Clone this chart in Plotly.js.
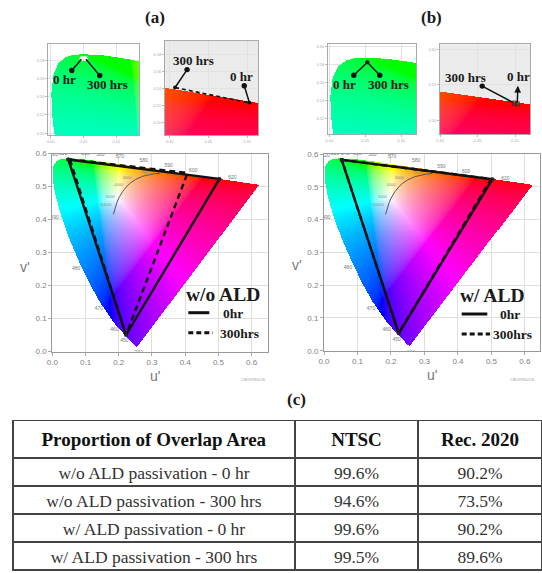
<!DOCTYPE html>
<html><head><meta charset="utf-8">
<script src="https://cdn.plot.ly/plotly-3.0.1.min.js"></script>
<style>html,body{margin:0;padding:0;background:#fff;}#chart{width:542px;height:573px;}</style>
</head><body><div id="chart"></div>
<script>
// ---------- DATA ----------
// CIE 1931 2-degree spectral locus (x, y chromaticity)
const wavelengths = [380,390,400,410,420,430,440,450,460,470,475,480,485,490,495,500,505,510,515,520,525,530,540,550,560,570,580,590,600,610,620,630,640,650,660,680,700];
const locusX = [0.1741,0.1738,0.1733,0.1726,0.1714,0.1689,0.1644,0.1566,0.1440,0.1241,0.1096,0.0913,0.0687,0.0454,0.0235,0.0082,0.0039,0.0139,0.0389,0.0743,0.1142,0.1547,0.2296,0.3016,0.3731,0.4441,0.5125,0.5752,0.6270,0.6658,0.6915,0.7079,0.7190,0.7260,0.7300,0.7334,0.7347];
const locusY = [0.0050,0.0049,0.0048,0.0048,0.0051,0.0069,0.0109,0.0177,0.0297,0.0578,0.0868,0.1327,0.2007,0.2950,0.4127,0.5384,0.6548,0.7502,0.8120,0.8338,0.8262,0.8059,0.7543,0.6923,0.6245,0.5547,0.4866,0.4242,0.3725,0.3340,0.3083,0.2920,0.2809,0.2740,0.2700,0.2666,0.2653];
const labelledWavelengths = [380,450,460,470,480,490,500,510,520,530,540,550,560,570,580,590,600,620];
// Planckian locus (CIE 1931 x, y)
const planckT = [20000,10000,8000,6500,5000,4000,3500,3000,2500,2000,1800];
const planckX = [0.2565,0.2807,0.2952,0.3135,0.3451,0.3805,0.4053,0.4369,0.4770,0.5267,0.5496];
const planckY = [0.2577,0.2884,0.3048,0.3237,0.3516,0.3768,0.3907,0.4041,0.4137,0.4133,0.4081];
const planckLabelled = ['10000','6500','4000','3000','2000'];
// Gamut triangle vertices in (u', v'): [green, red, blue]
const woALD_0hr_u   = [0.048, 0.503, 0.222];
const woALD_0hr_v   = [0.582, 0.523, 0.050];
const woALD_300h_u  = [0.053, 0.407, 0.222];
const woALD_300h_v  = [0.582, 0.541, 0.050];
const wALD_0hr_u    = [0.053, 0.503, 0.223];
const wALD_0hr_v    = [0.582, 0.523, 0.053];
const wALD_300h_u   = [0.053, 0.499, 0.223];
const wALD_300h_v   = [0.582, 0.524, 0.053];
// Table (c)
const tableHeader = ['Proportion of Overlap Area', 'NTSC', 'Rec. 2020'];
const tableRows = ['w/o ALD passivation - 0 hr', 'w/o ALD passivation - 300 hrs', 'w/ ALD passivation - 0 hr', 'w/ ALD passivation - 300 hrs'];
const ntscOverlap = [99.6, 94.6, 99.6, 99.5];
const rec2020Overlap = [90.2, 73.5, 90.2, 89.6];
const mainTicks = [0, 0.1, 0.2, 0.3, 0.4, 0.5, 0.6];
const mainTickText = ['0.0','0.1','0.2','0.3','0.4','0.5','0.6'];

// ---------- helpers ----------
const SERIF = '"Liberation Serif", "Times New Roman", serif';
const SANS = '"Liberation Sans", Arial, sans-serif';
const W = 542, H = 573;
const px = x => x / W, py = y => 1 - y / H;
function xy2uv(x, y) { const d = -2 * x + 12 * y + 3; return [4 * x / d, 9 * y / d]; }
const locusU = [], locusV = [];
wavelengths.forEach((w, i) => { const p = xy2uv(locusX[i], locusY[i]); locusU.push(p[0]); locusV.push(p[1]); });
const planckU = [], planckV = [];
planckT.forEach((t, i) => { const p = xy2uv(planckX[i], planckY[i]); planckU.push(p[0]); planckV.push(p[1]); });

function inside(u, v) {
  let c = false; const n = locusU.length;
  for (let i = 0, j = n - 1; i < n; j = i++) {
    const ui = locusU[i], vi = locusV[i], uj = locusU[j], vj = locusV[j];
    if (((vi > v) !== (vj > v)) && (u < (uj - ui) * (v - vi) / (vj - vi) + ui)) c = !c;
  }
  return c;
}
function gam(c) { return c <= 0.0031308 ? 12.92 * c : 1.055 * Math.pow(c, 1 / 2.4) - 0.055; }
function uvColor(u, v) {
  const d = 6 * u - 16 * v + 12; const x = 9 * u / d, y = 4 * v / d;
  const X = x / y, Y = 1, Z = (1 - x - y) / y;
  let r = 3.2406 * X - 1.5372 * Y - 0.4986 * Z;
  let g = -0.9689 * X + 1.8758 * Y + 0.0415 * Z;
  let b = 0.0557 * X - 0.2040 * Y + 1.0570 * Z;
  const mn = Math.min(r, g, b);
  if (mn < 0) { r -= 0.15 * mn; g -= 0.15 * mn; b -= 0.15 * mn; }
  r = Math.max(r, 0); g = Math.max(g, 0); b = Math.max(b, 0);
  const m = Math.max(r, g, b); r /= m; g /= m; b /= m;
  return [255 * gam(r), 255 * gam(g), 255 * gam(b), 1];
}
function gamutImage(u0, u1, v0, v1, nx, ny, xa, ya) {
  const du = (u1 - u0) / nx, dv = (v1 - v0) / ny, z = [];
  for (let j = 0; j < ny; j++) {
    const v = v0 + (j + 0.5) * dv, row = [];
    for (let i = 0; i < nx; i++) {
      const u = u0 + (i + 0.5) * du;
      row.push(inside(u, v) ? uvColor(u, v) : [255, 255, 255, 0]);
    }
    z.push(row);
  }
  return { type: 'image', colormodel: 'rgba', z: z, x0: u0 + du / 2, dx: du, y0: v0 + dv / 2, dy: dv, xaxis: xa, yaxis: ya, hoverinfo: 'skip' };
}
const close = a => a.concat([a[0]]);

// wavelength label positions: pushed outward from the white point
const wpU = 0.1978, wpV = 0.4683;
const wlU = [], wlV = [], wlT = [];
labelledWavelengths.forEach(w => {
  const i = wavelengths.indexOf(w);
  const du = locusU[i] - wpU, dv = locusV[i] - wpV, L = Math.hypot(du, dv);
  wlU.push(locusU[i] + 0.022 * du / L); wlV.push(locusV[i] + 0.022 * dv / L); wlT.push(String(w));
});
const plU = [], plV = [];
planckLabelled.forEach(t => { const i = planckT.indexOf(+t); plU.push(planckU[i] - 0.012); plV.push(planckV[i] + 0.004); });

function panelTraces(xa, ya, t0u, t0v, t3u, t3v, ranges) {
  return [
    gamutImage(ranges[0], ranges[1], ranges[2], ranges[3], 216, 198, xa, ya),
    { type: 'scatter', mode: 'lines', x: planckU, y: planckV, xaxis: xa, yaxis: ya, line: { color: '#555', width: 1 }, hoverinfo: 'skip' },
    { type: 'scatter', mode: 'text', x: plU, y: plV, text: planckLabelled, xaxis: xa, yaxis: ya, textfont: { size: 4, color: '#8a8a8a', family: SANS }, textposition: 'middle left', hoverinfo: 'skip' },
    { type: 'scatter', mode: 'text', x: wlU, y: wlV, text: wlT, xaxis: xa, yaxis: ya, textfont: { size: 5, color: '#777', family: SANS }, hoverinfo: 'skip' },
    { type: 'scatter', mode: 'lines', x: close(t3u), y: close(t3v), xaxis: xa, yaxis: ya, line: { color: '#111', width: 2.4, dash: '6px,4px' }, hoverinfo: 'skip' },
    { type: 'scatter', mode: 'lines+markers', x: close(t0u), y: close(t0v), xaxis: xa, yaxis: ya, line: { color: '#111', width: 2.4 }, marker: { size: 4, color: '#222' }, hoverinfo: 'skip' }
  ];
}

const traces = [];
traces.push(...panelTraces('x', 'y', woALD_0hr_u, woALD_0hr_v, woALD_300h_u, woALD_300h_v, [0, 0.65, 0, 0.6]));
traces.push(...panelTraces('x2', 'y2', wALD_0hr_u, wALD_0hr_v, wALD_300h_u, wALD_300h_v, [0, 0.645, 0, 0.6]));

// insets
const insetA_G = [-0.0036, 0.135, 0.498, 0.598];
const insetA_R = [0.394, 0.514, 0.485, 0.596];
const insetB_G = [-0.0017, 0.121, 0.502, 0.602];
const insetB_R = [0.400, 0.520, 0.480, 0.607];
traces.push(gamutImage(insetA_G[0], insetA_G[1], insetA_G[2], insetA_G[3], 91, 91, 'x3', 'y3'));
traces.push(gamutImage(insetA_R[0], insetA_R[1], insetA_R[2], insetA_R[3], 93, 94, 'x4', 'y4'));
traces.push(gamutImage(insetB_G[0], insetB_G[1], insetB_G[2], insetB_G[3], 88, 90, 'x5', 'y5'));
traces.push(gamutImage(insetB_R[0], insetB_R[1], insetB_R[2], insetB_R[3], 90, 90, 'x6', 'y6'));
// red-vertex shift in (a) inset
traces.push({ type: 'scatter', mode: 'lines+markers', x: [woALD_300h_u[1], woALD_0hr_u[1]], y: [woALD_300h_v[1], woALD_0hr_v[1]], xaxis: 'x4', yaxis: 'y4', line: { color: '#111', width: 1.6, dash: '4px,3px' }, marker: { size: 4, color: '#111' }, hoverinfo: 'skip' });
traces.push({ type: 'scatter', mode: 'markers', x: [woALD_0hr_u[0], woALD_300h_u[0]], y: [woALD_0hr_v[0], woALD_300h_v[0]], xaxis: 'x3', yaxis: 'y3', marker: { size: 5, color: '#fff', line: { color: '#bbb', width: 0.5 } }, hoverinfo: 'skip' });
traces.push({ type: 'scatter', mode: 'markers', x: [wALD_0hr_u[0], wALD_300h_u[0]], y: [wALD_0hr_v[0], wALD_300h_v[0]], xaxis: 'x5', yaxis: 'y5', marker: { size: 4, color: '#222' }, hoverinfo: 'skip' });
traces.push({ type: 'scatter', mode: 'markers', x: [wALD_0hr_u[1], wALD_300h_u[1]], y: [wALD_0hr_v[1], wALD_300h_v[1]], xaxis: 'x6', yaxis: 'y6', marker: { size: 4, color: '#333', symbol: 'square-open' }, hoverinfo: 'skip' });

// table
traces.push({
  type: 'table', domain: { x: [px(13), 1], y: [0, py(420.5)] },
  columnwidth: [282, 123, 124],
  header: { values: tableHeader.map(h => '<b>' + h + '</b>'), align: 'center', height: 37.5,
    font: { family: SERIF, size: 19, color: '#111' }, line: { color: '#444', width: 1.5 }, fill: { color: '#fff' } },
  cells: { values: [tableRows, ntscOverlap, rec2020Overlap], format: ['', '.1f', '.1f'], suffix: ['', '%', '%'], align: 'center', height: 28,
    font: { family: SERIF, size: 17.5, color: '#333' }, line: { color: '#444', width: 1.5 }, fill: { color: '#fff' } }
});

// ---------- layout ----------
function mainX(d, r, anchor) {
  return { domain: d, range: r, anchor: anchor, autorange: false, tickvals: mainTicks, ticktext: mainTickText,
    tickfont: { size: 8, color: '#808080', family: SANS }, ticks: 'outside', ticklen: 3, tickcolor: '#aaa',
    showgrid: true, gridcolor: '#dedede', gridwidth: 1, zeroline: false, showline: true, mirror: true, linecolor: '#999', linewidth: 1 };
}
function mainY(d, r, anchor) {
  const o = mainX(d, r, anchor); o.scaleanchor = false; return o;
}
function insetAx(d, r, anchor, isY) {
  const o = { domain: d, range: r, anchor: anchor, autorange: false, nticks: 6, tickformat: '.2f',
    tickfont: { size: 4, color: '#aaa', family: SANS }, ticks: 'outside', ticklen: 2, tickcolor: '#bbb',
    showgrid: true, gridcolor: '#e2e2e2', zeroline: false, showline: true, mirror: true, linecolor: '#aaa', linewidth: 1 };
  if (isY) o.scaleanchor = false;
  return o;
}
const layout = {
  width: W, height: H, margin: { l: 0, r: 0, t: 0, b: 0 }, paper_bgcolor: '#fff', plot_bgcolor: '#fff', showlegend: false,
  font: { family: SERIF },
  xaxis: mainX([px(52.3), px(268.3)], [0, 0.65], 'y'),
  yaxis: mainY([py(351.5), py(153.5)], [0, 0.6], 'x'),
  xaxis2: mainX([px(324), px(540)], [0, 0.645], 'y2'),
  yaxis2: mainY([py(350.7), py(154)], [0, 0.6], 'x2'),
  xaxis3: insetAx([px(48.3), px(139)], [insetA_G[0], insetA_G[1]], 'y3'),
  yaxis3: insetAx([py(135), py(44)], [insetA_G[2], insetA_G[3]], 'x3', true),
  xaxis4: insetAx([px(165), px(258)], [insetA_R[0], insetA_R[1]], 'y4'),
  yaxis4: insetAx([py(135), py(41)], [insetA_R[2], insetA_R[3]], 'x4', true),
  xaxis5: insetAx([px(328), px(416.3)], [insetB_G[0], insetB_G[1]], 'y5'),
  yaxis5: insetAx([py(134.3), py(44.3)], [insetB_G[2], insetB_G[3]], 'x5', true),
  xaxis6: insetAx([px(440), px(530)], [insetB_R[0], insetB_R[1]], 'y6'),
  yaxis6: insetAx([py(134.3), py(44.3)], [insetB_R[2], insetB_R[3]], 'x6', true),
  shapes: [
    { type: 'rect', xref: 'x4 domain', yref: 'y4 domain', x0: 0, x1: 1, y0: 0, y1: 1, layer: 'below', fillcolor: '#ebebeb', line: { width: 0 } },
    { type: 'rect', xref: 'x6 domain', yref: 'y6 domain', x0: 0, x1: 1, y0: 0, y1: 1, layer: 'below', fillcolor: '#ebebeb', line: { width: 0 } },
    // legend keys
    { type: 'line', xref: 'paper', yref: 'paper', x0: px(188.3), x1: px(209.3), y0: py(312.7), y1: py(312.7), line: { color: '#111', width: 3 } },
    { type: 'line', xref: 'paper', yref: 'paper', x0: px(188.3), x1: px(212.7), y0: py(332.7), y1: py(332.7), line: { color: '#111', width: 3, dash: '5px,3px' } },
    { type: 'line', xref: 'paper', yref: 'paper', x0: px(461.7), x1: px(487.3), y0: py(314), y1: py(314), line: { color: '#111', width: 3 } },
    { type: 'line', xref: 'paper', yref: 'paper', x0: px(461.7), x1: px(490), y0: py(334), y1: py(334), line: { color: '#111', width: 3, dash: '5px,3px' } }
  ],
  annotations: []
};
const A = layout.annotations;
function txt(x, y, t, size, opts) {
  A.push(Object.assign({ xref: 'paper', yref: 'paper', x: px(x), y: py(y), text: t, showarrow: false, xanchor: 'center', yanchor: 'middle',
    font: { family: SERIF, size: size, color: '#1a1a1a' } }, opts || {}));
}
txt(155, 17, '<b>(a)</b>', 17);
txt(431, 17, '<b>(b)</b>', 17);
txt(296, 399, '<b>(c)</b>', 17);
txt(223.3, 294, '<b>w/o ALD</b>', 19.5);
txt(233, 313, '<b>0hr</b>', 13.5);
txt(239.3, 333, '<b>300hrs</b>', 13.5);
txt(491.7, 295, '<b>w/ ALD</b>', 19.5);
txt(510, 314, '<b>0hr</b>', 13.5);
txt(512.5, 334, '<b>300hrs</b>', 13.5);
const grey = { family: SANS, size: 14, color: '#777' };
txt(155, 376, "u'", 14, { font: grey });
txt(25, 267, "v'", 14, { font: grey });
txt(431.7, 375, "u'", 14, { font: grey });
txt(297.3, 265, "v'", 14, { font: grey });
const tiny = { family: SANS, size: 4, color: '#999' };
txt(253, 379, 'CIE1976UCS', 4, { font: tiny });
txt(522, 379, 'CIE1976UCS', 4, { font: tiny });

function arrowLabel(xa, ya, u, v, t, ax, ay, head) {
  A.push({ xref: xa, yref: ya, x: u, y: v, ax: ax, ay: ay, text: '<b>' + t + '</b>', showarrow: true,
    arrowside: 'start', startarrowhead: head || 6, startarrowsize: 0.9, arrowwidth: 1.5, arrowcolor: '#111', standoff: 1, startstandoff: 0,
    font: { family: SERIF, size: 13, color: '#1a1a1a' } });
}
arrowLabel('x3', 'y3', woALD_0hr_u[0], woALD_0hr_v[0], '0 hr', -18, 21);
arrowLabel('x3', 'y3', woALD_300h_u[0], woALD_300h_v[0], '300 hrs', 22, 26);
arrowLabel('x4', 'y4', woALD_300h_u[1], woALD_300h_v[1], '300 hrs', 18, -27);
arrowLabel('x4', 'y4', woALD_0hr_u[1], woALD_0hr_v[1], '0 hr', -8, -26);
arrowLabel('x5', 'y5', wALD_0hr_u[0], wALD_0hr_v[0], '0 hr', -23, 22);
arrowLabel('x5', 'y5', wALD_300h_u[0], wALD_300h_v[0], '300 hrs', 21, 22);
arrowLabel('x6', 'y6', wALD_300h_u[1], wALD_300h_v[1], '300 hrs', -49, -26);
arrowLabel('x6', 'y6', wALD_0hr_u[1], wALD_0hr_v[1], '0 hr', 1, -27, 2);

Plotly.newPlot('chart', traces, layout, { displayModeBar: false, staticPlot: true });
</script></body></html>
